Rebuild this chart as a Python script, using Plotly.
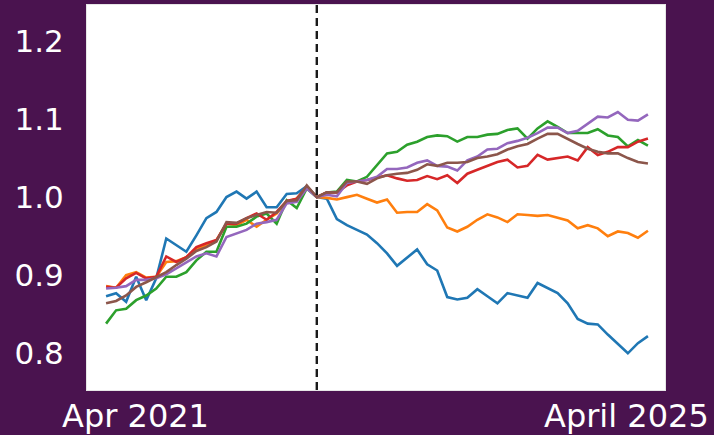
import plotly.graph_objects as go

# Period index (0 = Apr 2021); the intervention happens at index 21
periods = list(range(55))
break_idx = 21

blue = [0.873, 0.877, 0.866, 0.898, 0.868, 0.896, 0.947, 0.938, 0.930, 0.951,
        0.973, 0.981, 1.000, 1.007, 0.998, 1.007, 0.987, 0.987, 1.004, 1.005,
        1.014, 1.000, 0.998, 0.972, 0.964, 0.958, 0.952, 0.941, 0.928, 0.912,
        0.922, 0.933, 0.914, 0.906, 0.872, 0.869, 0.871, 0.882, 0.873, 0.864,
        0.877, 0.874, 0.871, 0.890, 0.884, 0.877, 0.864, 0.844, 0.838, 0.837,
        0.824, 0.812, 0.800, 0.813, 0.822]

orange = [0.886, 0.884, 0.900, 0.904, 0.897, 0.898, 0.917, 0.918, 0.923, 0.934,
          0.938, 0.945, 0.966, 0.964, 0.971, 0.962, 0.971, 0.979, 0.994, 0.998,
          1.013, 1.000, 0.999, 0.997, 1.000, 1.003, 0.998, 0.993, 0.997, 0.980,
          0.981, 0.981, 0.991, 0.983, 0.961, 0.956, 0.962, 0.971, 0.978, 0.974,
          0.968, 0.978, 0.977, 0.976, 0.977, 0.973, 0.970, 0.960, 0.964, 0.960,
          0.950, 0.956, 0.954, 0.948, 0.957]

green = [0.838, 0.855, 0.857, 0.868, 0.874, 0.883, 0.898, 0.898, 0.904, 0.919,
         0.930, 0.930, 0.962, 0.962, 0.966, 0.975, 0.979, 0.966, 0.996, 0.986,
         1.011, 1.000, 1.006, 1.007, 1.022, 1.020, 1.026, 1.041, 1.056, 1.058,
         1.067, 1.071, 1.077, 1.079, 1.078, 1.071, 1.077, 1.077, 1.080, 1.081,
         1.086, 1.088, 1.075, 1.088, 1.097, 1.090, 1.082, 1.082, 1.082, 1.087,
         1.079, 1.077, 1.065, 1.073, 1.066]

red = [0.885, 0.884, 0.896, 0.903, 0.896, 0.898, 0.924, 0.917, 0.923, 0.936,
       0.941, 0.945, 0.966, 0.966, 0.973, 0.979, 0.971, 0.981, 0.995, 0.998,
       1.013, 1.000, 1.006, 1.006, 1.015, 1.020, 1.022, 1.025, 1.028, 1.024,
       1.021, 1.022, 1.027, 1.023, 1.028, 1.018, 1.030, 1.035, 1.040, 1.045,
       1.048, 1.038, 1.040, 1.054, 1.048, 1.050, 1.052, 1.047, 1.064, 1.054,
       1.058, 1.064, 1.064, 1.071, 1.075]

purple = [0.883, 0.884, 0.886, 0.894, 0.894, 0.896, 0.901, 0.909, 0.916, 0.924,
          0.928, 0.924, 0.949, 0.953, 0.958, 0.966, 0.968, 0.971, 0.992, 0.994,
          1.011, 1.000, 1.003, 1.001, 1.018, 1.020, 1.022, 1.026, 1.036, 1.036,
          1.038, 1.044, 1.047, 1.040, 1.039, 1.034, 1.047, 1.052, 1.061, 1.062,
          1.069, 1.072, 1.076, 1.082, 1.089, 1.089, 1.082, 1.085, 1.094, 1.103,
          1.102, 1.109, 1.099, 1.098, 1.106]

brown = [0.864, 0.867, 0.874, 0.885, 0.891, 0.898, 0.904, 0.913, 0.921, 0.931,
         0.936, 0.943, 0.968, 0.967, 0.973, 0.977, 0.981, 0.980, 0.995, 0.996,
         1.015, 1.000, 1.006, 1.006, 1.020, 1.020, 1.017, 1.024, 1.028, 1.030,
         1.031, 1.035, 1.042, 1.040, 1.044, 1.044, 1.045, 1.050, 1.052, 1.055,
         1.061, 1.065, 1.068, 1.075, 1.081, 1.081, 1.074, 1.068, 1.062, 1.058,
         1.056, 1.056, 1.050, 1.045, 1.043]

series = [
    (blue, "#1f77b4"),
    (orange, "#ff7f0e"),
    (green, "#2ca02c"),
    (red, "#d62728"),
    (purple, "#9467bd"),
    (brown, "#8c564b"),
]

y_ticks = [0.8, 0.9, 1.0, 1.1, 1.2]
y_tick_text = ["0.8", "0.9", "1.0", "1.1", "1.2"]
start_label = "Apr 2021"
end_label = "April 2025"

BG = "#4a134f"
FONT = "DejaVu Sans"

fig = go.Figure()
for values, color in series:
    fig.add_trace(go.Scatter(
        x=periods, y=values, mode="lines",
        line=dict(color=color, width=2.6),
        showlegend=False, hoverinfo="skip",
    ))

# Vertical dashed marker at the break point
fig.add_shape(
    type="line", xref="x", yref="paper",
    x0=break_idx, x1=break_idx, y0=0, y1=1,
    line=dict(color="#1a1a1a", width=2.4, dash="8px,5px"),
)

fig.add_annotation(
    text=start_label, xref="paper", yref="paper",
    x=0.084, y=-0.012, xanchor="center", yanchor="top",
    showarrow=False, font=dict(family=FONT, size=32, color="white"),
)
fig.add_annotation(
    text=end_label, xref="paper", yref="paper",
    x=0.933, y=-0.012, xanchor="center", yanchor="top",
    showarrow=False, font=dict(family=FONT, size=32, color="white"),
)

fig.update_layout(
    width=714, height=435,
    margin=dict(l=87, r=49, t=5, b=45),
    paper_bgcolor=BG,
    plot_bgcolor="white",
    font=dict(family=FONT, color="white"),
)
fig.update_xaxes(
    range=[-1.9, 55.7], showgrid=False, zeroline=False,
    showticklabels=False, ticks="",
    showline=True, linecolor="#e6e6e6", linewidth=1, mirror=True,
)
fig.update_yaxes(
    range=[0.753, 1.246], showgrid=False, zeroline=False,
    tickvals=y_ticks, ticktext=y_tick_text,
    tickfont=dict(family=FONT, size=31, color="white"),
    ticks="outside", ticklen=0, ticklabelstandoff=16,
    showline=True, linecolor="#e6e6e6", linewidth=1, mirror=True,
)

fig.write_html("out.html")
